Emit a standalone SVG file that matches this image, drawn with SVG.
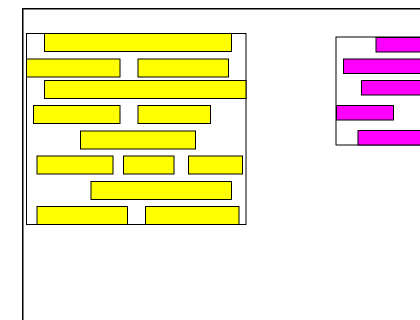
<svg xmlns="http://www.w3.org/2000/svg" width="420" height="320" viewBox="0 0 420 320">
<style>
.frame{fill:#fff;stroke:#000;stroke-width:1.5}
.box{fill:#fff;stroke:#000;stroke-width:1}
.y{fill:#ffff00;stroke:#000;stroke-width:1}
.m{fill:#ff00ff;stroke:#000;stroke-width:1}
</style>
<rect width="420" height="320" fill="#fff"/>
<g id="outer"><rect class="frame" x="22.75" y="8.75" width="420" height="340"/></g>
<g id="yellow-group">
<rect class="box" x="26.5" y="33.5" width="219.5" height="191"/>
<rect class="y" x="44.5" y="33.5" width="187" height="18"/>
<rect class="y" x="26.5" y="59" width="93.5" height="18"/>
<rect class="y" x="138" y="59" width="90.5" height="18"/>
<rect class="y" x="44.5" y="80.5" width="201.5" height="18"/>
<rect class="y" x="33.5" y="105.5" width="86.5" height="18"/>
<rect class="y" x="138" y="105.5" width="72.5" height="18"/>
<rect class="y" x="80.5" y="131" width="115" height="18"/>
<rect class="y" x="37" y="156" width="76" height="18"/>
<rect class="y" x="123.5" y="156" width="50.5" height="18"/>
<rect class="y" x="188.5" y="156" width="54" height="18"/>
<rect class="y" x="91" y="181.5" width="140.5" height="18"/>
<rect class="y" x="37" y="206.5" width="90.5" height="18"/>
<rect class="y" x="145.5" y="206.5" width="93.5" height="18"/>
</g>
<g id="magenta-group">
<rect class="box" x="336" y="37" width="100" height="108"/>
<rect class="m" x="376" y="37.5" width="60" height="14.5"/>
<rect class="m" x="343.5" y="59" width="90" height="14.5"/>
<rect class="m" x="361.5" y="80.5" width="70" height="14.5"/>
<rect class="m" x="336.5" y="105.5" width="57" height="14.5"/>
<rect class="m" x="358" y="130.5" width="70" height="14.5"/>
</g>
<g id="connectors"></g>
</svg>
